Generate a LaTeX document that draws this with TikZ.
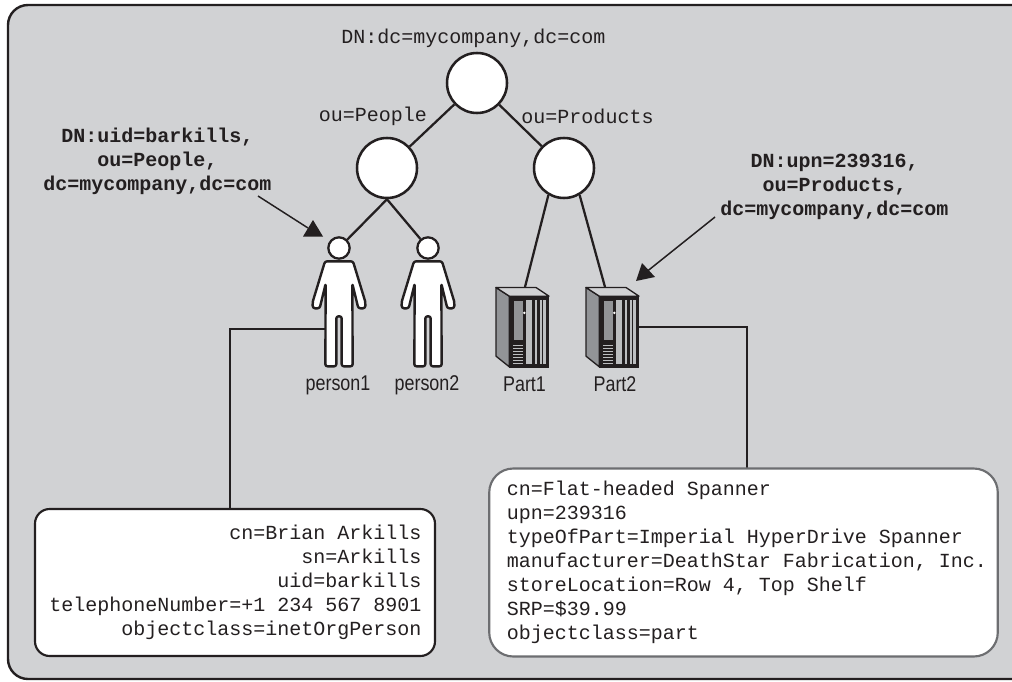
\documentclass[tikz,border=0pt]{standalone}
\usepackage{fontspec}
\newfontfamily\codefont{Liberation Mono}
\newfontfamily\labelfont[FakeStretch=0.84]{Liberation Sans}
\definecolor{panelgray}{HTML}{D1D2D4}
\definecolor{inkblack}{HTML}{231F20}
\definecolor{edgegray}{HTML}{6D6E71}
\definecolor{sidegray}{HTML}{929497}
\definecolor{slotgray}{HTML}{BCBEC0}
\tikzset{
  branch/.style={circle, draw=inkblack, fill=white, line width=1.9pt, minimum size=45pt, inner sep=0pt},
  headnode/.style={circle, draw=inkblack, fill=white, line width=1.7pt, minimum size=16pt, inner sep=0pt},
  link/.style={draw=inkblack, line width=1.7pt},
  pointer/.style={draw=inkblack, line width=1.1pt},
  codetext/.style={text=inkblack, inner sep=0pt, align=center, font=\codefont\fontsize{15}{18}\selectfont},
  dntext/.style={codetext, font=\codefont\bfseries\fontsize{15}{18}\selectfont},
  itemlabel/.style={text=inkblack, inner sep=0pt, font=\labelfont\fontsize{16}{18}\selectfont},
  person/.pic={
    \begin{scope}[x=.25pt, y=-.25pt]
    \draw[draw=inkblack, fill=white, line width=1.8pt, rounded corners=1.6pt, line join=round]
      (-42,40) -- (42,40) -- (80,165) -- (78,181) -- (58,181) -- (40,107) -- (41,355) -- (8,355) -- (8,205)
      -- (-8,205) -- (-8,355) -- (-41,355) -- (-40,107) -- (-58,181) -- (-78,181) -- (-80,165) -- cycle;
    \end{scope}
  },
  server/.pic={
    \begin{scope}[x=.25pt, y=-.25pt]
    \draw[draw=inkblack, fill=sidegray, line width=1pt, line join=round] (0,0) -- (40,26) -- (40,238) -- (0,206) -- cycle;
    \draw[draw=inkblack, fill=panelgray, line width=1pt, line join=round] (0,0) -- (120,0) -- (159,26) -- (40,26) -- cycle;
    \fill[inkblack] (40,26) rectangle (159,240);
    \fill[sidegray] (54,40) rectangle (82,158);
    \fill[white] (85,76) circle (1pt);
    \foreach \vy in {172,181,...,226} {
      \fill[slotgray] (50,\vy) rectangle (82,\vy+4);
    }
    \fill[slotgray] (90,38) rectangle (108,228);
    \fill[slotgray] (118,38) rectangle (122,228);
    \fill[slotgray] (132,38) rectangle (137,228);
    \fill[slotgray] (142,38) rectangle (150,228);
    \end{scope}
  }
}
\begin{document}
\begin{tikzpicture}[x=.75pt, y=-.75pt]
\useasboundingbox (0,0) rectangle (1012,681);
\clip (0,0) rectangle (1012,681);

\draw[draw=inkblack, fill=panelgray, line width=1.8pt, rounded corners=15pt] (8,5) rectangle (1040,679);

\node[branch] (root) at (477,83) {};
\node[branch] (people) at (387,168) {};
\node[branch] (products) at (564,168) {};
\node[headnode] (head1) at (339,248) {};
\node[headnode] (head2) at (428,248) {};

\coordinate (partA) at (525,287);
\coordinate (partB) at (605,287);
\coordinate (side1) at (327,329);
\coordinate (drop1) at (230,509);
\coordinate (side2) at (639,327);
\coordinate (drop2) at (747,468);

\draw[link] (root) -- (people);
\draw[link] (root) -- (products);
\draw[link] (people.south) -- (head1);
\draw[link] (people.south) -- (head2);
\draw[link] (products.240) -- (partA);
\draw[link] (products.300) -- (partB);
\draw[link] (side1) -| (drop1);
\draw[link] (side2) -| (drop2);

\pic at (head1) {person};
\pic at (head2) {person};
\pic at (496,287.5) {server};
\pic at (586,287.5) {server};

\node[itemlabel] (person1) at (338,385) {person1};
\node[itemlabel] (person2) at (427,385) {person2};
\node[itemlabel] (part1) at (524.5,384) {Part1};
\node[itemlabel] (part2) at (615,384) {Part2};

\node[codetext] (dnroot) at (473.5,38) {DN:dc=mycompany,dc=com};
\node[codetext] (oupeople) at (373,116) {ou=People};
\node[codetext] (ouproducts) at (587.5,116) {ou=Products};

\node[dntext] (dnperson) at (157.5,161) {DN:uid=barkills,\\ou=People,\\dc=mycompany,dc=com};
\node[dntext] (dnpart) at (834.5,186.5) {DN:upn=239316,\\ou=Products,\\dc=mycompany,dc=com};

\coordinate (tipA) at (308,228);
\coordinate (tipB) at (645,273);
\draw[pointer] (258,196) -- (tipA);
\fill[inkblack] (313,220) -- (323,236.5) -- (303,236.5) -- cycle;
\draw[pointer] (715,217) -- (tipB);
\fill[inkblack] (636,281) -- (642,263) -- (655,277) -- cycle;

\node[codetext, draw=inkblack, fill=white, line width=1.6pt, rounded corners=11pt, align=flush right,
  minimum height=110.25pt, text width=279.5pt, inner xsep=10.25pt] (personbox) at (235,582.5)
  {cn=Brian Arkills\\sn=Arkills\\uid=barkills\\telephoneNumber=+1 234 567 8901\\objectclass=inetOrgPerson};
\node[codetext, draw=edgegray, fill=white, line width=1.6pt, rounded corners=18pt, align=flush left,
  minimum height=141pt, text width=355pt, inner xsep=13.2pt] (partbox) at (743.5,562.5)
  {cn=Flat-headed Spanner\\upn=239316\\typeOfPart=Imperial HyperDrive Spanner\\\mbox{manufacturer=DeathStar Fabrication, Inc.}\\storeLocation=Row 4, Top Shelf\\SRP=\$39.99\\objectclass=part};
\end{tikzpicture}
\end{document}
